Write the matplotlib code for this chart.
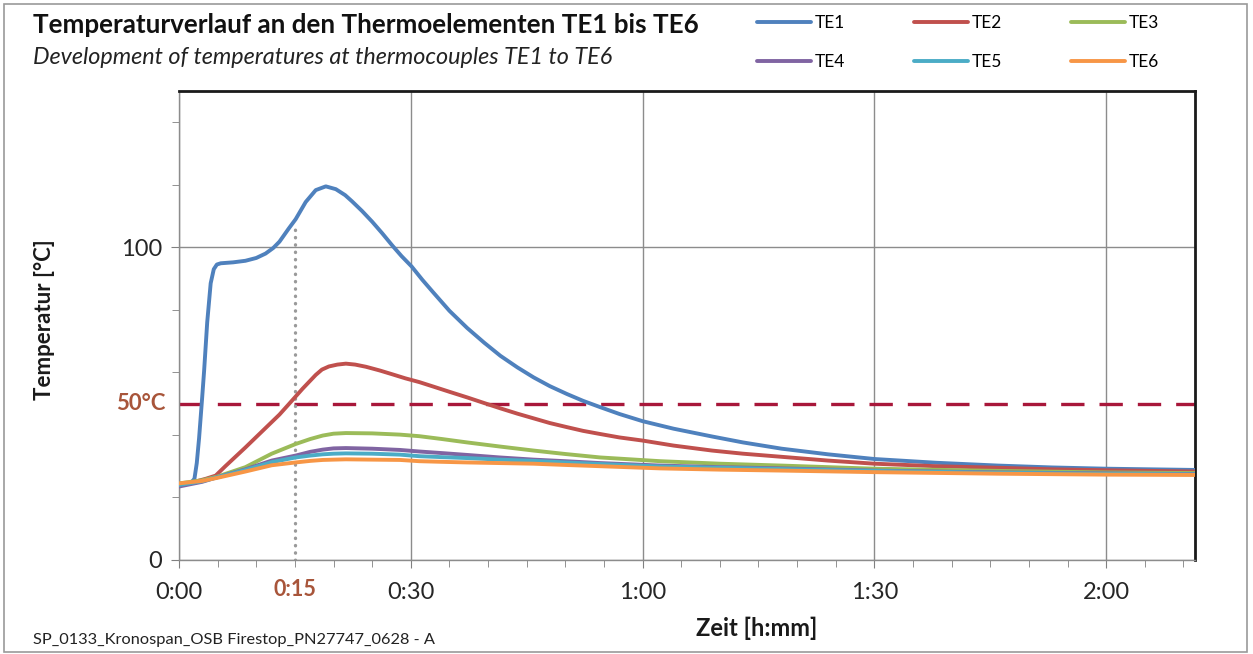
import matplotlib
matplotlib.use("Agg")
import matplotlib.pyplot as plt
from matplotlib.ticker import MultipleLocator, FixedLocator
from matplotlib.patches import Rectangle

plt.rcParams['font.family'] = ['Lato', 'DejaVu Sans']

# time in minutes, temperatures in °C
t_te1 = [0, 1, 1.6, 2.0, 2.3, 2.6, 3.0, 3.25, 3.65, 4.1, 4.5, 4.9, 5.4, 7, 8.6, 10, 11.2, 12.2, 13.0,
         14.2, 15.1, 16.4, 17.7, 19.0, 20.3, 21.5, 22.4, 23.7, 25, 26.3, 27.6, 28.8, 30.1, 31.5, 32.9,
         35, 37.3, 39.5, 41.6, 43.8, 45.9, 48, 50.2, 52.3, 54.5, 57, 60, 64, 69, 73, 78, 84, 90, 98,
         106, 113, 120, 131.5]
te1 = [24.5, 24.5, 24.8, 26, 31, 39, 52, 60.5, 76, 88.5, 93, 94.5, 94.9, 95.2, 95.7, 96.6, 98, 99.8,
       101.8, 106, 109, 114.5, 118.3, 119.5, 118.6, 116.7, 114.7, 111.6, 108.2, 104.5, 100.6, 97.2,
       93.9, 89.6, 85.6, 79.7, 74.2, 69.5, 65.3, 61.6, 58.4, 55.6, 53.1, 50.9, 48.9, 46.7, 44.4, 42,
       39.5, 37.6, 35.6, 33.8, 32.3, 31.1, 30.2, 29.6, 29.2, 28.8]

t_te2 = [0, 2, 3.5, 4.75, 6, 8.6, 13.0, 14.2, 16, 17.7, 18.5, 19.4, 20.5, 21.6, 22.8, 24.2, 26, 27.6,
         29.3, 31.1, 33, 35, 37.3, 39.5, 41.6, 43.8, 45.9, 48, 50.2, 52.3, 54.5, 57, 60, 64, 69, 73,
         78, 84, 90, 98, 106, 113, 120, 131.5]
te2 = [24, 25, 26, 27, 30, 36, 46.5, 49.8, 54.8, 59.2, 60.9, 61.9, 62.5, 62.8, 62.5, 61.8, 60.6, 59.4,
       58.1, 56.9, 55.4, 53.8, 52, 50.2, 48.5, 46.8, 45.3, 43.8, 42.5, 41.3, 40.3, 39.2, 38.2, 36.6,
       35, 34, 33, 31.8, 30.8, 30, 29.5, 29, 28.7, 28.3]

t_low = [0, 3, 5, 8.6, 12, 15.1, 17, 18.6, 20, 21.6, 25, 28.6, 31.1, 34, 37.3, 41.5, 45.9, 50, 54.5,
         62.3, 70, 78, 90, 106, 120, 131.5]
te3 = [24.5, 25.5, 26.7, 29.7, 34, 37.1, 38.7, 39.8, 40.4, 40.6, 40.5, 40.1, 39.6, 38.7, 37.6, 36.3,
       35, 33.9, 32.8, 31.6, 30.8, 30.2, 29.2, 28.5, 28, 27.8]
te4 = [23.5, 25, 26.5, 29, 31.8, 33.4, 34.6, 35.3, 35.7, 35.8, 35.6, 35.2, 34.7, 34.2, 33.6, 32.8,
       32.1, 31.6, 31, 30.2, 29.7, 29.3, 28.6, 28, 27.7, 27.5]
te5 = [24, 25.2, 26.5, 28.8, 31.3, 32.8, 33.4, 33.8, 34, 34.1, 34, 33.7, 33.2, 32.9, 32.6, 32.1,
       31.7, 31.2, 30.7, 29.9, 29.5, 29.1, 28.5, 27.9, 27.6, 27.4]
te6 = [24.5, 25.3, 26.3, 28.3, 30.3, 31.2, 31.7, 32, 32.1, 32.2, 32.1, 32, 31.6, 31.4, 31.2, 31, 30.8,
       30.4, 30, 29.3, 28.9, 28.6, 28.1, 27.6, 27.3, 27.2]

series_names = ['TE1', 'TE2', 'TE3', 'TE4', 'TE5', 'TE6']
colors = ['#4F81BD', '#C0504D', '#9BBB59', '#8064A2', '#4BACC6', '#F79646']

x_major = [0, 30, 60, 90, 120]
x_labels = ['0:00', '0:30', '1:00', '1:30', '2:00']
y_major = [0, 100]
limit_temp = 50
mark_time = 15
mark_top = 106

fig = plt.figure(figsize=(12.53, 6.54), dpi=100)
ax = fig.add_axes([179/1253, 1-560/654, (1195-179)/1253, (560-91)/654])

data = [(t_te1, te1), (t_te2, te2), (t_low, te3), (t_low, te4), (t_low, te5), (t_low, te6)]
handles = []
for name, col, (tx, ty) in zip(series_names, colors, data):
    h, = ax.plot(tx, ty, color=col, lw=2.8, label=name, solid_capstyle='round',
                 solid_joinstyle='round', zorder=3)
    handles.append(h)

ax.axhline(limit_temp, color='#A8173A', lw=2.4, dashes=(7, 4.5), zorder=2)
ax.plot([mark_time, mark_time], [0, mark_top], color='#9A9A9A', lw=2.4, linestyle=(0, (0.1, 2.1)),
        dash_capstyle='round', zorder=2)

ax.set_xlim(0, 131.5)
ax.set_ylim(0, 150)
ax.xaxis.set_major_locator(FixedLocator(x_major))
ax.xaxis.set_minor_locator(MultipleLocator(5))
ax.set_xticklabels(x_labels)
ax.yaxis.set_major_locator(FixedLocator(y_major))
ax.yaxis.set_minor_locator(MultipleLocator(20))
ax.grid(True, which='major', color='#8C8C8C', lw=1.0)
ax.set_axisbelow(True)

ax.tick_params(which='both', direction='out', color='#808080', labelcolor='#262626')
ax.tick_params(which='major', length=6, labelsize=17)
ax.tick_params(which='minor', length=5)
ax.tick_params(axis='x', which='major', pad=10)
ax.tick_params(axis='y', which='major', pad=6)

for s in ['left', 'bottom']:
    ax.spines[s].set_color('#8C8C8C')
    ax.spines[s].set_linewidth(1.0)
for s in ['top', 'right']:
    ax.spines[s].set_color('#1A1A1A')
    ax.spines[s].set_linewidth(2.0)

fig.text(45/1253, 1-320/654, 'Temperatur [°C]', rotation=90, ha='center', va='center',
         fontsize=16, fontweight='bold', color='#1A1A1A')
fig.text(757/1253, 1-628/654, 'Zeit [h:mm]', ha='center', va='center',
         fontsize=17, fontweight='bold', color='#1A1A1A')

ax.text(-14/1016, limit_temp, '50°C', transform=ax.get_yaxis_transform(), ha='right', va='center',
        fontsize=16, fontweight='bold', color='#A8553A')
ax.text(mark_time, -30/469, '0:15', transform=ax.get_xaxis_transform(), ha='center', va='center',
        fontsize=15.5, fontweight='bold', color='#A8553A')

fig.text(33/1253, 1-25/654, 'Temperaturverlauf an den Thermoelementen TE1 bis TE6', fontsize=18.7,
         fontweight='bold', color='#111111', va='center', ha='left')
fig.text(33/1253, 1-57/654, 'Development of temperatures at thermocouples TE1 to TE6', fontsize=16.8,
         style='italic', color='#222222', va='center', ha='left')
fig.text(33/1253, 1-640/654, 'SP_0133_Kronospan_OSB Firestop_PN27747_0628 - A', fontsize=11.8,
         color='#222222', va='center', ha='left')

order = [0, 3, 1, 4, 2, 5]
leg = fig.legend([handles[i] for i in order], [series_names[i] for i in order], ncol=3,
                 loc='upper left', bbox_to_anchor=(757/1253, 1-15.5/654), frameon=False,
                 fontsize=12.5, handlelength=3.1, handletextpad=0.23, columnspacing=3.97,
                 labelspacing=1.3, borderpad=0, borderaxespad=0)

fig.add_artist(Rectangle((4/1253, 2/654), 1243/1253, 648/654, transform=fig.transFigure,
                         fill=False, edgecolor='#9A9A9A', lw=1.2))

fig.savefig('out.png', dpi=100)
